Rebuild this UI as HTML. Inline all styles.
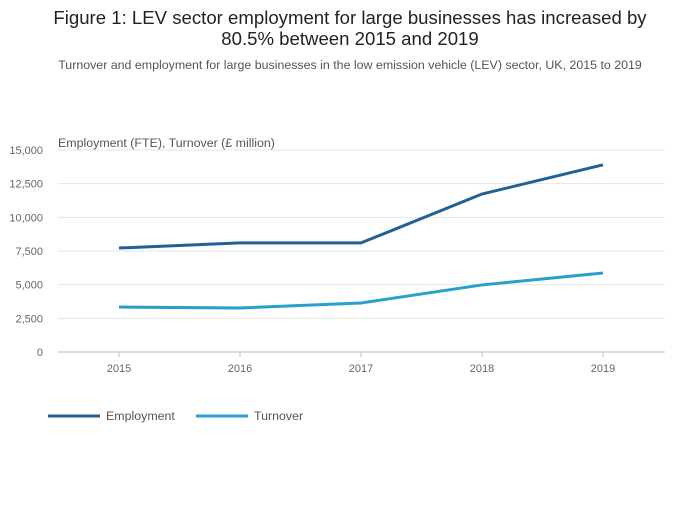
<!DOCTYPE html>
<html><head><meta charset="utf-8"><style>
body{margin:0;background:#fff;font-family:"Liberation Sans",sans-serif;}
svg text{font-family:"Liberation Sans",sans-serif;}
</style></head><body>
<svg width="700" height="502">
<text x="350" y="24" text-anchor="middle" font-size="18.6" fill="#222">Figure 1: LEV sector employment for large businesses has increased by</text>
<text x="350" y="45" text-anchor="middle" font-size="18.6" fill="#222">80.5% between 2015 and 2019</text>
<text x="350" y="69" text-anchor="middle" font-size="12.4" fill="#555">Turnover and employment for large businesses in the low emission vehicle (LEV) sector, UK, 2015 to 2019</text>
<text x="58" y="147" font-size="12.4" fill="#555">Employment (FTE), Turnover (£ million)</text>
<g id="grid"></g><g id="series"></g>
<g>
<line x1="48" y1="416" x2="100" y2="416" stroke="#206095" stroke-width="3"/>
<text x="106" y="420" font-size="12.4" fill="#555">Employment</text>
<line x1="196" y1="416" x2="248" y2="416" stroke="#27a0cc" stroke-width="3"/>
<text x="254" y="420" font-size="12.4" fill="#555">Turnover</text>
</g>
</svg>
<script>
const years=["2015","2016","2017","2018","2019"];
const employment=[7720,8100,8100,11730,13900];
const turnover=[3340,3270,3640,4980,5870];
const yTicks=[0,2500,5000,7500,10000,12500,15000];
const ns="http://www.w3.org/2000/svg";
const x=i=>119+i*121;
const y=v=>352-v/15000*202;
const g=document.getElementById('grid'),s=document.getElementById('series');
function mk(tag,attrs,parent){const e=document.createElementNS(ns,tag);for(const k in attrs)e.setAttribute(k,attrs[k]);parent.appendChild(e);return e;}
yTicks.forEach(v=>{
 const l=mk('line',{x1:58,x2:665,y1:y(v),y2:y(v),stroke:v===0?'#bbb':'#e5e5e5','stroke-width':1},g);
 
 
 const t=mk('text',{x:43,y:y(v)+4,'text-anchor':'end','font-size':11,fill:'#666'},g);
 t.textContent=v.toLocaleString('en-GB');
 
 
});
years.forEach((yr,i)=>{
 const k=mk('line',{x1:x(i),x2:x(i),y1:352,y2:357,stroke:'#bbb'},g);
 
 
 const t=mk('text',{x:x(i),y:372,'text-anchor':'middle','font-size':11,fill:'#666'},g);
 t.textContent=yr;
 
 
});
[[employment,'#206095','employment-line'],[turnover,'#27a0cc','turnover-line']].forEach(([d,c,n])=>{
 const p=mk('polyline',{points:d.map((v,i)=>x(i)+','+y(v)).join(' '),fill:'none',stroke:c,'stroke-width':3,'stroke-linejoin':'round'},s);
 
 
});
</script>
</body></html>
